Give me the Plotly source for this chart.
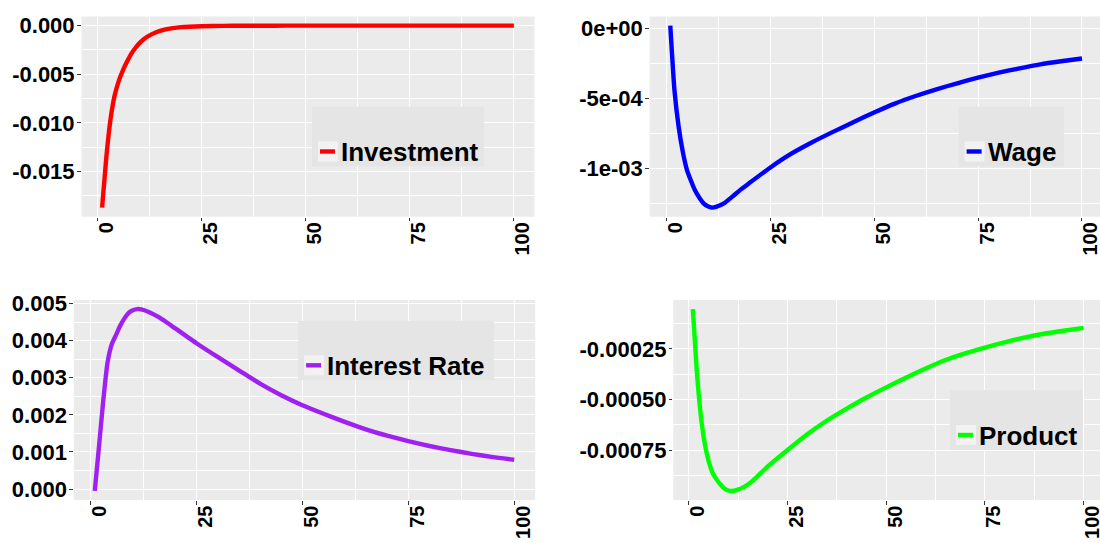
import plotly.graph_objects as go

# ---- data -------------------------------------------------------------
period = [1, 2, 3, 4, 5, 6, 7, 8, 9, 10, 11, 12, 14, 16, 18, 20, 25, 30, 35,
          40, 45, 50, 55, 60, 65, 70, 75, 80, 85, 90, 95, 100]

investment = [-0.0187, -0.0136, -0.0097, -0.0072, -0.0057, -0.0046, -0.0037,
              -0.0029, -0.0023, -0.0018, -0.0014, -0.0011, -0.00068, -0.00042,
              -0.00026, -0.00016, -0.00006, -0.00003, -0.000015, -0.00001,
              -0.000007, -0.000005, -0.000004, -0.000003, -0.000002, -0.000002,
              -0.000001, -0.000001, -0.000001, 0.0, 0.0, 0.0]

wage = [0.00002, -0.00044, -0.00070, -0.00088, -0.00101, -0.00109, -0.00116,
        -0.00121, -0.00125, -0.00127, -0.00128, -0.001275, -0.001248, -0.00120,
        -0.00115, -0.001105, -0.000995, -0.000897, -0.000815, -0.000741,
        -0.00067, -0.000601, -0.000537, -0.000483, -0.000435, -0.000392,
        -0.000351, -0.000316, -0.000285, -0.000257, -0.000235, -0.000215]

interest_rate = [-0.00005, 0.00115, 0.00238, 0.00340, 0.00390, 0.00415, 0.00440,
                 0.00460, 0.00475, 0.00482, 0.00485, 0.00484, 0.00476, 0.00464,
                 0.00449, 0.00433, 0.00393, 0.00356, 0.00320, 0.00284, 0.00253,
                 0.00226, 0.00203, 0.00181, 0.00161, 0.00144, 0.00129, 0.00116,
                 0.00105, 0.00095, 0.00086, 0.00079]

product = [-0.000053, -0.000358, -0.000575, -0.000716, -0.000805, -0.000862,
           -0.000895, -0.00092, -0.00094, -0.00095, -0.000952, -0.000948,
           -0.000932, -0.000905, -0.000868, -0.000831, -0.00075, -0.000672,
           -0.000604, -0.000545, -0.00049, -0.00044, -0.000392, -0.000347,
           -0.000305, -0.000272, -0.000243, -0.000217, -0.000194, -0.000175,
           -0.00016, -0.000146]

x_ticks = [0, 25, 50, 75, 100]
x_tick_labels = ["0", "25", "50", "75", "100"]

inv_ticks = [0.0, -0.005, -0.010, -0.015]
inv_tick_labels = ["0.000", "-0.005", "-0.010", "-0.015"]
wage_ticks = [0.0, -0.0005, -0.001]
wage_tick_labels = ["0e+00", "-5e-04", "-1e-03"]
rate_ticks = [0.0, 0.001, 0.002, 0.003, 0.004, 0.005]
rate_tick_labels = ["0.000", "0.001", "0.002", "0.003", "0.004", "0.005"]
prod_ticks = [-0.00025, -0.0005, -0.00075]
prod_tick_labels = ["-0.00025", "-0.00050", "-0.00075"]

# ---- figure geometry (pixels) ----------------------------------------
W, H = 1100, 543
PANEL_BG = "#EBEBEB"
FONT = "Liberation Sans, Arial, sans-serif"


def px_x(p):
    return p / W


def px_y(p):
    return 1 - p / H


def expand(vals, frac=0.05):
    lo, hi = min(vals), max(vals)
    pad = (hi - lo) * frac
    return [lo - pad, hi + pad]


def midpoints(ticks):
    t = sorted(ticks)
    step = t[1] - t[0]
    out = [t[0] - step / 2]
    out += [(a + b) / 2 for a, b in zip(t[:-1], t[1:])]
    out.append(t[-1] + step / 2)
    return out


x_range = expand(period)

# panel boxes: (left px, right px, top px, bottom px) and x-range right end
panels = [
    dict(series=investment, name="Investment", color="#FF0000",
         box=(81.5, 534.5, 16.5, 216.7), xmax=x_range[1],
         yt=inv_ticks, ytl=inv_tick_labels,
         legend=(312, 484, 106.7, 166.5)),
    dict(series=wage, name="Wage", color="#0000FF",
         box=(649.7, 1100, 16.5, 216.7), xmax=104.33,
         yt=wage_ticks, ytl=wage_tick_labels,
         legend=(958.6, 1063.8, 106.7, 166.5)),
    dict(series=interest_rate, name="Interest Rate", color="#A020F0",
         box=(73.8, 535.2, 300.0, 500.0), xmax=x_range[1],
         yt=rate_ticks, ytl=rate_tick_labels,
         legend=(298.1, 493.9, 320.7, 380.3)),
    dict(series=product, name="Product", color="#00FF00",
         box=(673.3, 1100, 300.0, 500.0), xmax=104.18,
         yt=prod_ticks, ytl=prod_tick_labels,
         legend=(950, 1083, 390, 450)),
]

fig = go.Figure()
xtickfont = dict(family=FONT, size=20, color="black", weight="bold")
ytickfont = dict(family=FONT, size=22, color="black", weight="bold")

layout_axes = {}
shapes = []
annotations = []

for i, p in enumerate(panels, start=1):
    xa = "x" if i == 1 else f"x{i}"
    ya = "y" if i == 1 else f"y{i}"
    fig.add_trace(go.Scatter(
        x=period, y=p["series"], mode="lines", name=p["name"],
        line=dict(color=p["color"], width=4.4, shape="spline", smoothing=0.5),
        xaxis=xa, yaxis=ya, showlegend=False, hoverinfo="skip"))

    l, r, t, b = p["box"]
    yr = expand(p["series"])
    xkey = "xaxis" if i == 1 else f"xaxis{i}"
    ykey = "yaxis" if i == 1 else f"yaxis{i}"
    layout_axes[xkey] = dict(
        domain=[px_x(l), px_x(r)], range=[x_range[0], p["xmax"]],
        anchor=ya, automargin=False,
        tickmode="array", tickvals=x_ticks, ticktext=x_tick_labels,
        tickangle=-90, ticks="outside", ticklen=3.5, tickwidth=1.1,
        tickcolor="#333333", tickfont=xtickfont, ticklabelshift=9,
        ticklabelstandoff=-7, ticklabeloverflow="allow",
        showgrid=True, gridcolor="white", gridwidth=1.3,
        minor=dict(tickmode="array", tickvals=midpoints(x_ticks),
                   showgrid=True, gridcolor="white", gridwidth=0.6, ticks=""),
        zeroline=False, showline=False, fixedrange=True)
    layout_axes[ykey] = dict(
        domain=[px_y(b), px_y(t)], range=yr, anchor=xa, automargin=False,
        tickmode="array", tickvals=p["yt"], ticktext=p["ytl"],
        ticks="outside", ticklen=3.5, tickwidth=1.1, tickcolor="#333333",
        tickfont=ytickfont, ticklabelstandoff=-2,
        showgrid=True, gridcolor="white", gridwidth=1.3,
        minor=dict(tickmode="array", tickvals=midpoints(p["yt"]),
                   showgrid=True, gridcolor="white", gridwidth=0.6, ticks=""),
        zeroline=False, showline=False, fixedrange=True)

    # panel background
    shapes.append(dict(type="rect", xref="paper", yref="paper", layer="below",
                       x0=px_x(l), x1=px_x(r), y0=px_y(b), y1=px_y(t),
                       fillcolor=PANEL_BG, line=dict(width=0)))

    # legend box with its key and label
    lx0, lx1, ly0, ly1 = p["legend"]
    shapes.append(dict(type="rect", xref="paper", yref="paper", layer="above",
                       x0=px_x(lx0), x1=px_x(lx1), y0=px_y(ly1), y1=px_y(ly0),
                       fillcolor="#E5E5E5", line=dict(width=0)))
    kx0 = lx0 + 6
    ky1 = ly1 - 5
    shapes.append(dict(type="rect", xref="paper", yref="paper", layer="above",
                       x0=px_x(kx0), x1=px_x(kx0 + 20), y0=px_y(ky1),
                       y1=px_y(ky1 - 20), fillcolor="#F2F2F2",
                       line=dict(width=0)))
    shapes.append(dict(type="line", xref="paper", yref="paper", layer="above",
                       x0=px_x(kx0 + 2), x1=px_x(kx0 + 17),
                       y0=px_y(ky1 - 10), y1=px_y(ky1 - 10),
                       line=dict(color=p["color"], width=4.4)))
    annotations.append(dict(
        xref="paper", yref="paper", x=px_x(kx0 + 21), y=px_y(ky1 - 9.5),
        xanchor="left", yanchor="middle", showarrow=False, text=p["name"],
        font=dict(family=FONT, size=26, color="black", weight="bold")))

fig.update_layout(
    template="none",
    width=W, height=H, autosize=False,
    margin=dict(l=0, r=0, t=0, b=0, pad=0, autoexpand=False),
    paper_bgcolor="white", plot_bgcolor="rgba(0,0,0,0)",
    showlegend=False, shapes=shapes, annotations=annotations,
    **layout_axes)

fig.write_html("out.html", config={"displayModeBar": False})
